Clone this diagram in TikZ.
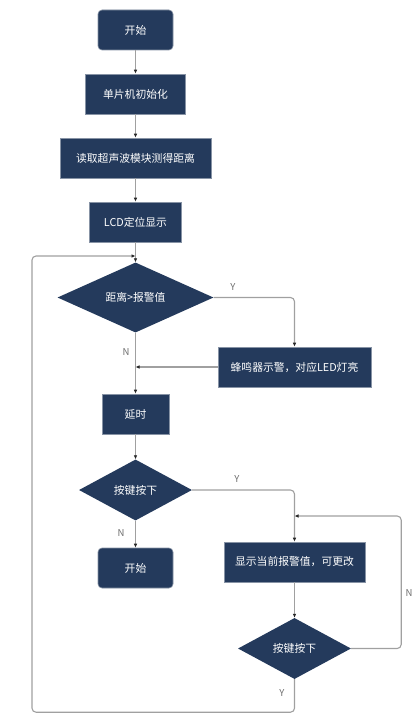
\documentclass[tikz,border=0pt]{standalone}
\usepackage{fontspec}
\setmainfont{Noto Sans CJK SC}
\usetikzlibrary{arrows.meta,shapes.geometric}
\definecolor{navy}{RGB}{36,58,92}
\definecolor{wire}{RGB}{160,160,160}
\definecolor{tag}{RGB}{110,110,110}

\begin{document}
\begin{tikzpicture}[x=1pt,y=-1pt,>=Latex,font=\fontsize{10.8}{12}\selectfont,
 box/.style={fill=navy,draw=navy!55,line width=.6pt,text=white,inner sep=0pt,minimum height=40pt},
 term/.style={box,rounded corners=4pt,minimum width=75pt},
 cond/.style={diamond,fill=navy,text=white,inner sep=0pt,minimum height=61pt},
 arr/.style={-{Latex[length=4pt,width=3.6pt,color=black!85]},draw=wire,line width=1.1pt,rounded corners=4pt},
 lbl/.style={text=tag,font=\fontsize{9.5}{10}\selectfont}]
\path[use as bounding box,fill=white] (0,0) rectangle (420,725);
% main column
\node[term] (start) at (135.5,30) {开始};
\node[box,minimum width=100pt] (init) at (135.5,94) {单片机初始化};
\node[box,minimum width=151pt] (read) at (135.5,158) {读取超声波模块测得距离};
\node[box,minimum width=92pt] (lcd) at (135.5,222) {LCD定位显示};
\node[cond,minimum width=156pt] (dist) at (135.5,297.5) {距离>报警值};
\node[box,minimum width=153pt] (alarm) at (294.5,367) {蜂鸣器示警，对应LED灯亮};
\node[box,minimum width=67pt] (wait) at (135.5,414) {延时};
\node[cond,minimum width=113pt] (key1) at (135.5,490) {按键按下};
\node[term] (stop) at (135.5,568) {开始};
% right column
\node[box,minimum width=141pt] (show) at (294.5,562) {显示当前报警值，可更改};
\node[cond,minimum width=113pt] (key2) at (294.5,648.5) {按键按下};
% merge points
\coordinate (m1) at (135.5,256);
\coordinate (m2) at (135.5,367);
\coordinate (m3) at (294.5,516);
\coordinate (back) at (32,256);
\foreach \a/\b in {start/init,init/read,read/lcd,lcd/dist,dist/wait,wait/key1,key1/stop,show/key2}{\draw[arr] (\a)--(\b);}
\draw[arr] (dist.east)-|(alarm.north);
\draw[arr] (alarm.west)--(m2);
\draw[arr] (key1.east)-|(show.north);
\draw[arr] (key2.east)--++(50,0)|-(m3);
\draw[arr] (key2.south)--++(0,33)-|(back)--(m1);
\node[lbl] (y1) at (233,287) {Y};
\node[lbl] (n1) at (126,352) {N};
\node[lbl] (y2) at (237,479) {Y};
\node[lbl] (n2) at (121,533) {N};
\node[lbl] (n3) at (409,593) {N};
\node[lbl] (y3) at (282,693) {Y};
\end{tikzpicture}
\end{document}
